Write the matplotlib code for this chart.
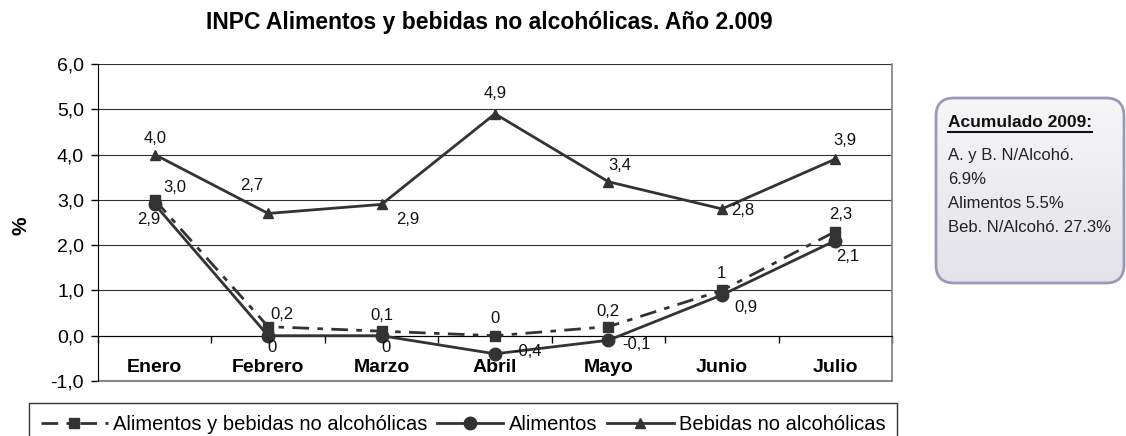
import matplotlib
matplotlib.use("Agg")
import matplotlib.pyplot as plt
import numpy as np
from matplotlib.colors import LinearSegmentedColormap
from matplotlib.patches import FancyBboxPatch

meses = ["Enero", "Febrero", "Marzo", "Abril", "Mayo", "Junio", "Julio"]
abna = [3.0, 0.2, 0.1, 0.0, 0.2, 1.0, 2.3]
alimentos = [2.9, 0.0, 0.0, -0.4, -0.1, 0.9, 2.1]
bebidas = [4.0, 2.7, 2.9, 4.9, 3.4, 2.8, 3.9]
abna_txt = ["3,0", "0,2", "0,1", "0", "0,2", "1", "2,3"]
alim_txt = ["2,9", "0", "0", "-0,4", "-0,1", "0,9", "2,1"]
beb_txt = ["4,0", "2,7", "2,9", "4,9", "3,4", "2,8", "3,9"]
y_ticks = [-1, 0, 1, 2, 3, 4, 5, 6]
y_ticklabels = ["-1,0", "0,0", "1,0", "2,0", "3,0", "4,0", "5,0", "6,0"]
nombres = ["Alimentos y bebidas no alcohólicas", "Alimentos", "Bebidas no alcohólicas"]
acumulado = ["A. y B. N/Alcohó.", "6.9%", "Alimentos 5.5%", "Beb. N/Alcohó. 27.3%"]

# label offsets in pixels (dx, dy; dy up)
off_abna = [(20, 12), (14, 12), (0, 16), (0, 17), (0, 15), (0, 17), (5, 17)]
off_alim = [(-6, -15), (4, -12), (4, -12), (33, 2), (28, -4), (24, -13), (12, -16)]
off_beb = [(0, 16), (-16, 28), (26, -15), (0, 20), (11, 16), (21, -2), (10, 19)]

plt.rcParams["font.family"] = ["Liberation Sans", "DejaVu Sans"]

W, H = 1126, 436
fig = plt.figure(figsize=(W / 100, H / 100), dpi=100)
ax = fig.add_axes([98 / W, 1 - 381 / H, (892 - 98) / W, (381 - 64) / H])

# spine position first: it resets tick settings
ax.spines["bottom"].set_position(("data", 0))
ax.spines["bottom"].set_color("black")
ax.spines["left"].set_color("black")
ax.spines["top"].set_visible(False)
ax.spines["right"].set_color("#888888")
ax.spines["right"].set_linewidth(1.3)

x = np.arange(len(meses))
col = "#333333"
l1, = ax.plot(x, abna, color=col, lw=2, ls=(0, (6, 3, 2, 3)), marker="s", ms=7.5, zorder=3)
l2, = ax.plot(x, alimentos, color=col, lw=2, marker="o", ms=9, zorder=4)
l3, = ax.plot(x, bebidas, color=col, lw=2, marker="^", ms=7.5, zorder=4)

for vals, txts, offs in [(abna, abna_txt, off_abna), (alimentos, alim_txt, off_alim), (bebidas, beb_txt, off_beb)]:
    for xi, v, t, o in zip(x, vals, txts, offs):
        ax.annotate(t, (xi, v), xytext=o, textcoords="offset pixels",
                    ha="center", va="center", fontsize=12, color="#111111", zorder=6)

ax.set_xlim(-0.5, len(meses) - 0.5)
ax.set_ylim(-1, 6)
ax.set_yticks(y_ticks)
ax.set_yticklabels(y_ticklabels, fontsize=14)
ax.set_xticks(x)
ax.set_xticklabels(meses, fontsize=14, fontweight="bold")
ax.set_xticks(np.arange(-0.5, len(meses)), minor=True)
ax.tick_params(axis="x", which="major", length=0, pad=17)
ax.tick_params(axis="x", which="minor", length=5, width=1, direction="out")
ax.tick_params(axis="y", length=5, width=1, direction="out", pad=5)

ax.grid(axis="y", color="#303030", lw=0.8)
ax.set_axisbelow(True)
ax.axhline(-1, color="#888888", lw=1.5, zorder=1, clip_on=False)

leg = fig.legend([l1, l2, l3], nombres, loc="upper left", bbox_to_anchor=(29 / W, 1 - 403 / H),
                 ncol=3, fontsize=14.5, handlelength=3.3, handletextpad=0.25, columnspacing=0.5,
                 frameon=True, fancybox=False, borderaxespad=0, borderpad=0.6)
leg.get_frame().set_edgecolor("black")
leg.get_frame().set_linewidth(1)

fig.text(489 / W, 1 - 23 / H, "INPC Alimentos y bebidas no alcohólicas. Año 2.009",
         ha="center", va="center", fontsize=16.5, fontweight="bold")
fig.text(21 / W, 1 - 226 / H, "%", rotation=90, ha="center", va="center", fontsize=15, fontweight="bold")

# overlay in pixel coordinates for the summary box
ov = fig.add_axes([0, 0, 1, 1], zorder=10)
ov.axis("off")
bx0, by0, bx1, by1 = 936, 98, 1124, 283
box = FancyBboxPatch((bx0, by0), bx1 - bx0, by1 - by0, boxstyle="round,pad=0,rounding_size=18",
                     facecolor="none", edgecolor="#9a9ab8", lw=2, zorder=2)
ov.add_patch(box)
grad = np.linspace(0, 1, 100).reshape(-1, 1)
img = ov.imshow(grad, extent=(bx0, bx1, by1, by0), aspect="auto", zorder=1,
                cmap=LinearSegmentedColormap.from_list("g", ["#f6f6f8", "#e2e2e8"]))
img.set_clip_path(box)
ov.set_xlim(0, W)
ov.set_ylim(H, 0)

hdr = ov.text(948, 122, "Acumulado 2009:", fontweight="bold", fontsize=12.5,
              ha="left", va="center", color="#111111")
fig.canvas.draw()
bb = hdr.get_window_extent().transformed(ov.transData.inverted())
ov.plot([bb.x0, bb.x1], [132, 132], color="#111111", lw=1.5)
for yy, t in zip([155, 179, 203, 227], acumulado):
    ov.text(948, yy, t, fontsize=12, ha="left", va="center", color="#222222")

fig.savefig("out.png", dpi=100)
